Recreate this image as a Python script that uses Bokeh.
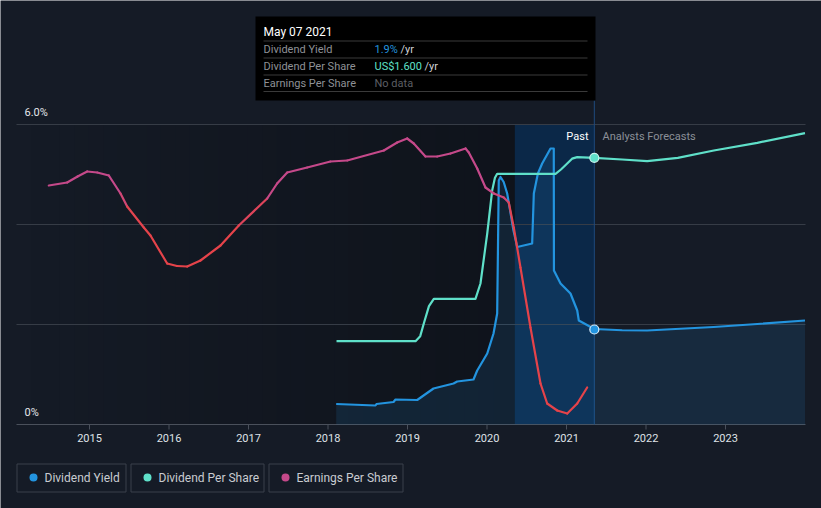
import numpy as np
from bokeh.plotting import figure
from bokeh.models import Range1d
from bokeh.core.properties import value
from bokeh.embed import file_html
from bokeh.resources import INLINE

# ---------------- data ----------------
year_ticks = [2015, 2016, 2017, 2018, 2019, 2020, 2021, 2022, 2023]

yield_years = [2018.103, 2018.597, 2018.61, 2018.824, 2018.849, 2019.122, 2019.22, 2019.327,
               2019.579, 2019.625, 2019.83, 2019.877, 2020.003, 2020.082, 2020.128,
               2020.148, 2020.17, 2020.21, 2020.254, 2020.333, 2020.38, 2020.568, 2020.589,
               2020.64, 2020.694, 2020.799, 2020.84, 2020.842, 2020.925, 2021.05, 2021.135,
               2021.155, 2021.35, 2021.7, 2022.015, 2022.85, 2023.4, 2024.0]
yield_pct = [0.41, 0.38, 0.41, 0.45, 0.50, 0.49, 0.60, 0.72,
             0.82, 0.86, 0.90, 1.08, 1.42, 1.82, 2.22,
             4.88, 4.95, 4.85, 4.62, 3.88, 3.55, 3.62, 4.62,
             5.02, 5.22, 5.52, 5.52, 3.08, 2.82, 2.62, 2.28,
             2.08, 1.91, 1.885, 1.88, 1.95, 2.01, 2.08]

dps_years = [2018.107, 2019.101, 2019.16, 2019.205, 2019.27, 2019.331, 2019.855,
             2019.918, 2020.003, 2020.065, 2020.10, 2020.128, 2020.862, 2020.93,
             2021.009, 2021.07, 2021.135, 2021.35, 2021.7, 2022.015, 2022.4, 2022.853,
             2023.4, 2024.0]
dps_usd = [0.50, 0.50, 0.53, 0.606, 0.71, 0.754, 0.754,
           0.846, 1.146, 1.404, 1.48, 1.504, 1.504, 1.53,
           1.566, 1.595, 1.604, 1.60, 1.59, 1.58, 1.60, 1.644,
           1.69, 1.748]

eps_years = [2014.488, 2014.719, 2014.85, 2014.971, 2015.097, 2015.243, 2015.390, 2015.474,
             2015.683, 2015.767, 2015.977, 2016.10, 2016.229, 2016.396, 2016.648, 2016.878,
             2017.235, 2017.36, 2017.487, 2017.738, 2018.031, 2018.242, 2018.702, 2018.870,
             2018.996, 2019.079, 2019.226, 2019.374, 2019.541, 2019.730, 2019.771,
             2019.877, 2019.981, 2020.086, 2020.211, 2020.274, 2020.337, 2020.421,
             2020.547, 2020.673, 2020.757, 2020.883, 2021.009, 2021.135, 2021.26]
eps_usd = [2.39, 2.42, 2.48, 2.53, 2.52, 2.49, 2.31, 2.18,
           1.97, 1.89, 1.61, 1.585, 1.58, 1.64, 1.79, 1.99,
           2.26, 2.41, 2.52, 2.57, 2.63, 2.64, 2.74, 2.82,
           2.86, 2.81, 2.68, 2.68, 2.71, 2.76, 2.72,
           2.56, 2.37, 2.31, 2.27, 2.22, 1.97, 1.57,
           0.97, 0.41, 0.21, 0.14, 0.11, 0.21, 0.37]

now_year = 2021.35          # May 07 2021
band_start = 2020.35
yield_now = 1.9
dps_now = 1.6

# ---------------- layout helpers ----------------
W, H = 821, 508
PX_PER_YEAR = 79.5
X0 = 2015 - 89 / PX_PER_YEAR
BASE = 424
PX_PER_PCT = 50.0
PX_PER_DPS = 300 / 1.8
PX_PER_EPS = 100.0


def X(px):
    return X0 + px / PX_PER_YEAR


def Y(py):
    return (BASE - py) / PX_PER_PCT


BG = "#151b26"
GRID = "#363c46"
BLUE = "#2394df"
CYAN = "#5fe0c9"
PINK = "#c5498a"
RED = "#e5434a"
FONT = value("Roboto")

p = figure(width=W, height=H,
           x_range=Range1d(X(0), X(W)), y_range=Range1d(Y(H), Y(0)),
           x_axis_type=None, y_axis_type=None,
           toolbar_location=None, output_backend="svg", min_border=0)
p.background_fill_color = BG
p.border_fill_color = BG
p.outline_line_color = None
p.extra_y_ranges = {
    "dps": Range1d(-(H - BASE) / PX_PER_DPS, BASE / PX_PER_DPS),
    "eps": Range1d(-(H - BASE) / PX_PER_EPS, BASE / PX_PER_EPS),
}

left_px, right_px, top_px = 16, 805, 124
x_left, x_right = X(left_px), X(right_px)
y_top = Y(top_px)

# past region darkening gradient
n = 40
edges = np.linspace(x_left, now_year, n + 1)
alphas = np.linspace(0.0, 0.32, n)
p.quad(left=edges[:-1], right=edges[1:], top=y_top, bottom=0,
       fill_color="#000000", fill_alpha=alphas, line_color=None)

# last-year highlight band
p.quad(left=[band_start], right=[now_year], top=[y_top], bottom=[0],
       fill_color="#0b2848", line_color=None)

# grid lines
p.segment(x0=x_left, x1=x_right, y0=[2, 4, 6], y1=[2, 4, 6],
          line_color=GRID, line_width=1)
# axis line and ticks
p.segment(x0=[x_left], x1=[x_right], y0=[0], y1=[0], line_color="#4a505b", line_width=1.2)
p.segment(x0=year_ticks, x1=year_ticks, y0=0, y1=Y(BASE + 5), line_color="#4a505b", line_width=1)

# now line
p.segment(x0=[now_year], x1=[now_year], y0=[0], y1=[Y(100)], line_color="#1f4a7e", line_width=1)

# dividend yield area + line
p.varea(x=yield_years, y1=0, y2=yield_pct, fill_color=BLUE, fill_alpha=0.13)
p.line(yield_years, yield_pct, line_color=BLUE, line_width=2.2, line_join="round")

# DPS line
p.line(dps_years, dps_usd, y_range_name="dps", line_color=CYAN, line_width=2.2, line_join="round")


# EPS line, coloured by level (pink high, red low)
def mix(c1, c2, t):
    a = [int(c1[i:i + 2], 16) for i in (1, 3, 5)]
    b = [int(c2[i:i + 2], 16) for i in (1, 3, 5)]
    return "#" + "".join("%02x" % int(round(a[k] + (b[k] - a[k]) * t)) for k in range(3))


xs, ys, cols = [], [], []
for i in range(len(eps_years) - 1):
    xs.append([eps_years[i], eps_years[i + 1]])
    ys.append([eps_usd[i], eps_usd[i + 1]])
    m = 0.5 * (eps_usd[i] + eps_usd[i + 1])
    t = min(1.0, max(0.0, (m - 2.05) / (2.35 - 2.05)))
    cols.append(mix(RED, PINK, t))
p.multi_line(xs, ys, y_range_name="eps", line_color=cols, line_width=2.2, line_cap="round")

# current markers
p.scatter([now_year], [dps_now], y_range_name="dps", size=9, fill_color=CYAN,
          line_color="#c8f4ec", line_width=1.2)
p.scatter([now_year], [yield_now], size=9, fill_color=BLUE,
          line_color="#d8ecfb", line_width=1.2)


def txt(px, py, s, color, size="11px", align="left", style="normal"):
    p.text(x=[X(px)], y=[Y(py)], text=[s], text_color=color, text_font=FONT,
           text_font_size=size, text_align=align, text_baseline="middle",
           text_font_style=style)


# y labels
txt(24, 112, "6.0%", "#e4e6ea")
txt(24, 412, "0%", "#e4e6ea")
# x tick labels
p.text(x=year_ticks, y=Y(437), text=[str(y) for y in year_ticks], text_color="#dfe2e6",
       text_font=FONT, text_font_size="11px", text_align="center", text_baseline="middle")

txt(588, 136, "Past", "#ffffff", align="right")
txt(602, 136, "Analysts Forecasts", "#8b9098")

# tooltip
p.quad(left=[X(255)], right=[X(595)], top=[Y(16)], bottom=[Y(100)],
       fill_color="#000000", line_color=None)
p.segment(x0=X(263), x1=X(587), y0=[Y(40.5), Y(57.5), Y(74.5), Y(91)],
          y1=[Y(40.5), Y(57.5), Y(74.5), Y(91)], line_color="#3a3a3a", line_width=1)
txt(263, 31, "May 07 2021", "#ffffff", size="12px")
txt(263, 48.5, "Dividend Yield", "#8e9196")
txt(263, 65.5, "Dividend Per Share", "#8e9196")
txt(263, 82.5, "Earnings Per Share", "#8e9196")
txt(374, 48.5, "1.9%", BLUE)
txt(400, 48.5, "/yr", "#d0d2d6")
txt(374, 65.5, "US$1.600", CYAN)
txt(424, 65.5, "/yr", "#d0d2d6")
txt(374, 82.5, "No data", "#5c5f64")

# legend
boxes = [(16.5, 125.5, "Dividend Yield", BLUE),
         (130.5, 263.5, "Dividend Per Share", CYAN),
         (268.5, 402.5, "Earnings Per Share", PINK)]
for l, r, label, c in boxes:
    p.quad(left=[X(l)], right=[X(r)], top=[Y(463.5)], bottom=[Y(491.5)],
           fill_color=None, line_color="#3a404b", line_width=1)
    p.scatter([X(l + 16.5)], [Y(477)], size=8, fill_color=c, line_color=None)
    txt(l + 27.5, 477, label, "#c9ccd1", size="12px")

open("out.html", "w").write(file_html(p, INLINE))
